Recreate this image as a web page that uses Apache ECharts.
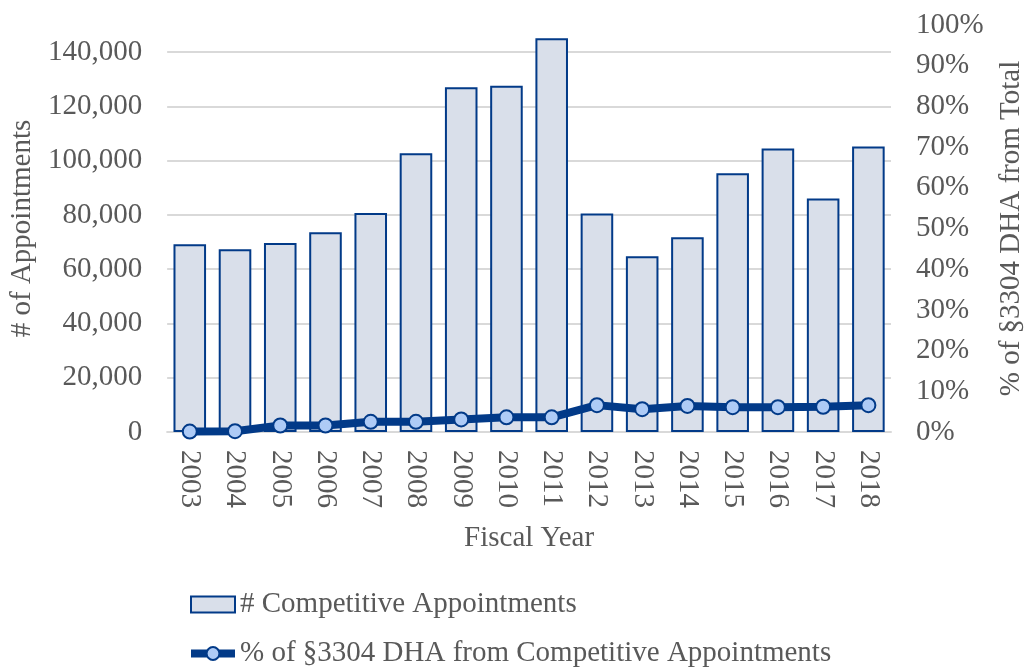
<!DOCTYPE html>
<html>
<head>
<meta charset="utf-8">
<script src="https://cdn.jsdelivr.net/npm/echarts@6/dist/echarts.min.js"></script>
<style>
  html, body { margin: 0; padding: 0; background: #fff; }
  #chart { width: 1034px; height: 667px; }
</style>
</head>
<body>
<div id="chart"></div>
<script>
const years = ["2003", "2004", "2005", "2006", "2007", "2008", "2009", "2010",
  "2011", "2012", "2013", "2014", "2015", "2016", "2017", "2018"];
const appointments = [69200, 67350, 69700, 73600, 80700, 102700, 127100, 127600,
  145150, 80500, 64800, 71800, 95350, 104500, 86100, 105250];
const dhaShare = [0.1, 0.2, 1.6, 1.6, 2.5, 2.5, 3.1, 3.6,
  3.6, 6.6, 5.6, 6.4, 6.1, 6.1, 6.2, 6.6];

const FONT = "Liberation Serif";
const FS = 29;
const TEXT = "#595959";
const NAVY = "#023a88";
const GRID = "#d9d9d9";

const chart = echarts.init(document.getElementById("chart"));

chart.setOption({
  animation: false,
  textStyle: { fontFamily: FONT, color: TEXT },
  grid: { left: 167, right: 141, top: 25, bottom: 235 },
  legend: {
    orient: "vertical",
    left: 187,
    top: 590,
    height: 90,
    padding: 0,
    itemGap: 20,
    itemWidth: 44,
    itemHeight: 16,
    textStyle: { fontFamily: FONT, fontSize: FS, color: TEXT },
    data: [
      { name: "# Competitive Appointments", icon: "rect" },
      { name: "% of §3304 DHA from Competitive Appointments", lineStyle: { width: 8 } }
    ]
  },
  xAxis: {
    type: "category",
    data: years,
    name: "Fiscal Year",
    nameLocation: "middle",
    nameGap: 92,
    nameTextStyle: { fontFamily: FONT, fontSize: FS, color: TEXT },
    axisLine: { show: true, lineStyle: { color: GRID, width: 2 } },
    axisTick: { show: false },
    axisLabel: { rotate: -90, margin: 18, fontFamily: FONT, fontSize: FS, color: TEXT }
  },
  yAxis: [
    {
      type: "value",
      min: 0,
      max: 150000,
      interval: 20000,
      name: "# of Appointments",
      nameLocation: "middle",
      nameGap: 119,
      nameTextStyle: { fontFamily: FONT, fontSize: FS, color: TEXT },
      axisLine: { show: false },
      axisTick: { show: false },
      axisLabel: {
        margin: 25,
        fontFamily: FONT,
        fontSize: FS,
        color: TEXT,
        showMaxLabel: false,
        formatter: (v) => v.toLocaleString("en-US")
      },
      splitLine: { show: true, showMaxLine: false, lineStyle: { color: GRID, width: 2 } }
    },
    {
      type: "value",
      min: 0,
      max: 100,
      interval: 10,
      name: "% of §3304 DHA from Total",
      nameLocation: "middle",
      nameGap: 106,
      nameTextStyle: { fontFamily: FONT, fontSize: FS, color: TEXT },
      axisLine: { show: false },
      axisTick: { show: false },
      axisLabel: {
        margin: 25,
        fontFamily: FONT,
        fontSize: FS,
        color: TEXT,
        formatter: (v) => v + "%"
      },
      splitLine: { show: false }
    }
  ],
  series: [
    {
      name: "# Competitive Appointments",
      type: "bar",
      yAxisIndex: 0,
      data: appointments,
      barCategoryGap: "28%",
      itemStyle: { color: "#d9dfea", borderColor: NAVY, borderWidth: 2 }
    },
    {
      name: "% of §3304 DHA from Competitive Appointments",
      type: "line",
      yAxisIndex: 1,
      data: dhaShare,
      symbol: "circle",
      symbolSize: 14,
      lineStyle: { color: NAVY, width: 8 },
      itemStyle: { color: "#aecbf6", borderColor: NAVY, borderWidth: 2 },
      z: 5
    }
  ]
});
</script>
</body>
</html>
